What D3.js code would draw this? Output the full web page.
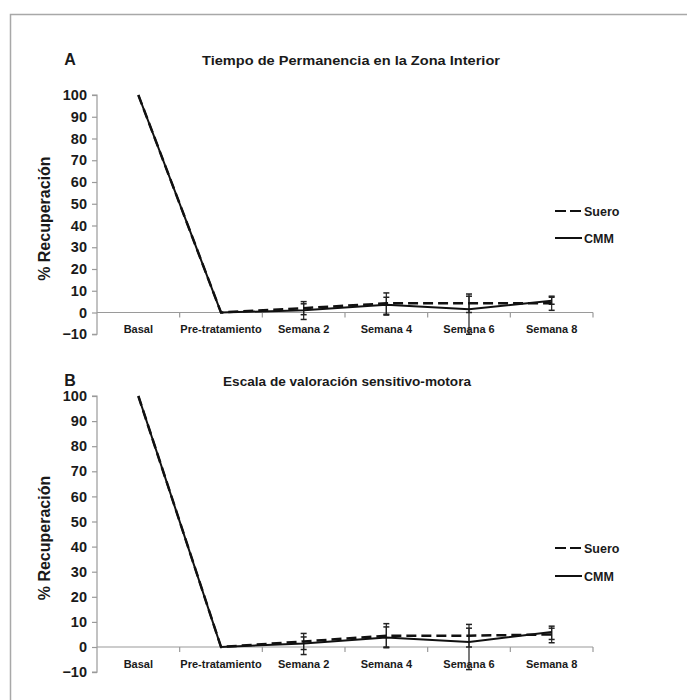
<!DOCTYPE html>
<html><head><meta charset="utf-8">
<script src="https://cdn.jsdelivr.net/npm/d3@7"></script>
<style>
html,body{margin:0;padding:0;background:#fff;}
svg{display:block;}
text{font-family:"Liberation Sans",Arial,sans-serif;fill:#1a1a1a;}
</style></head>
<body>
<svg id="chart" width="687" height="700"></svg>
<script>
const categories = ["Basal","Pre-tratamiento","Semana 2","Semana 4","Semana 6","Semana 8"];
const yTickValues = [-10,0,10,20,30,40,50,60,70,80,90,100];
const seriesNames = ["Suero","CMM"];

// Panel A: Tiempo de Permanencia en la Zona Interior
const sueroA   = [100, 0, 2.0, 4.2, 4.2, 4.2];
const sueroAHi = [null, null, 5.0, 9.0, 8.5, 7.5];
const sueroALo = [null, null, -1.0, -0.8, 0.0, 1.0];
const cmmA     = [100, 0, 1.0, 3.6, 1.5, 5.4];
const cmmAHi   = [null, null, 4.0, 7.0, 7.5, 7.0];
const cmmALo   = [null, null, -3.2, -1.2, -10.0, 3.8];

// Panel B: Escala de valoración sensitivo-motora
const sueroB   = [100, 0, 2.2, 4.5, 4.5, 5.0];
const sueroBHi = [null, null, 5.4, 9.3, 9.0, 8.3];
const sueroBLo = [null, null, -1.0, -0.3, 0.0, 1.7];
const cmmB     = [100, 0, 1.4, 3.8, 2.0, 6.0];
const cmmBHi   = [null, null, 4.0, 8.0, 7.5, 7.5];
const cmmBLo   = [null, null, -3.0, 0.0, -9.0, 3.0];

const panels = [
  {letter:"A", title:"Tiempo de Permanencia en la Zona Interior", titleLen:298, titleX:351,
   top:95, zero:312.5, titleY:65, legendY:[211,238],
   suero:sueroA, sueroHi:sueroAHi, sueroLo:sueroALo, cmm:cmmA, cmmHi:cmmAHi, cmmLo:cmmALo},
  {letter:"B", title:"Escala de valoración sensitivo-motora", titleLen:248, titleX:347,
   top:396, zero:647, titleY:386, legendY:[548,576],
   suero:sueroB, sueroHi:sueroBHi, sueroLo:sueroBLo, cmm:cmmB, cmmHi:cmmBHi, cmmLo:cmmBLo}
];

const svg = d3.select("#chart");
// outer frame
svg.append("rect").attr("x",10.5).attr("y",14.5).attr("width",720).attr("height",720)
  .attr("fill","none").attr("stroke","#a8a8a8").attr("stroke-width",1.5);

const axisColor = "#9a9a9a";

panels.forEach(p => {
  const g = svg.append("g");
  const x = d3.scaleBand().domain(categories).range([97, 593]).padding(0);
  const y = d3.scaleLinear().domain([0,100]).range([p.zero, p.top]);

  // y axis
  const yAxis = g.append("g").attr("transform","translate(97,0)")
    .call(d3.axisLeft(y).tickValues(yTickValues).tickSize(5).tickPadding(5).tickFormat(d3.format("d")));
  yAxis.select(".domain").attr("stroke",axisColor).attr("stroke-width",1.2)
    .attr("d", `M-5,${y(100)}H0V${y(-10)}H-5`);
  yAxis.selectAll(".tick line").attr("stroke",axisColor).attr("stroke-width",1.2);
  yAxis.selectAll(".tick text").attr("font-size",14.5).attr("font-weight","bold").attr("fill","#1a1a1a");

  // x axis at y = 0
  const xAxis = g.append("g").attr("transform",`translate(0,${y(0)})`)
    .call(d3.axisBottom(x).tickSize(0).tickPadding(13));
  xAxis.select(".domain").attr("stroke",axisColor).attr("stroke-width",1.2)
    .attr("d", `M97,0H593`);
  xAxis.selectAll(".tick text").attr("font-size",11).attr("font-weight","bold").attr("fill","#1a1a1a");
  // ticks between categories
  g.append("g").selectAll("line").data(categories)
    .join("line")
    .attr("x1",d=>x(d) + x.bandwidth())
    .attr("x2",d=>x(d) + x.bandwidth())
    .attr("y1",y(0)).attr("y2",y(0)+5)
    .attr("stroke",axisColor).attr("stroke-width",1.2);

  // axis title
  g.append("text").attr("transform",`translate(50,${(y(100)+y(-10))/2+4}) rotate(-90)`)
    .attr("text-anchor","middle").attr("font-size",16).attr("font-weight","bold")
    .attr("fill","#222").text("% Recuperación");

  // panel letter and title
  g.append("text").attr("x",70).attr("y",p.titleY).attr("text-anchor","middle")
    .attr("font-size",16).attr("font-weight","bold").text(p.letter);
  g.append("text").attr("x",p.titleX).attr("y",p.titleY).attr("text-anchor","middle")
    .attr("font-size",12.5).attr("font-weight","bold")
    .attr("textLength",p.titleLen).attr("lengthAdjust","spacingAndGlyphs").text(p.title);

  const cx = c => x(c) + x.bandwidth()/2;

  // error bars
  const drawErr = (hi, lo) => {
    categories.forEach((c,i) => {
      if (hi[i] == null) return;
      const xx = cx(c);
      g.append("line").attr("x1",xx).attr("x2",xx).attr("y1",y(hi[i])).attr("y2",y(lo[i]))
        .attr("stroke","#222").attr("stroke-width",1.2);
      [hi[i], lo[i]].forEach(v => {
        g.append("line").attr("x1",xx-3).attr("x2",xx+3).attr("y1",y(v)).attr("y2",y(v))
          .attr("stroke","#222").attr("stroke-width",1.5);
      });
    });
  };
  drawErr(p.sueroHi, p.sueroLo);
  drawErr(p.cmmHi, p.cmmLo);

  const line = d3.line().x((d,i)=>cx(categories[i])).y(d=>y(d));
  g.append("path").datum(p.cmm).attr("d", line)
    .attr("fill","none").attr("stroke","#111").attr("stroke-width",2);
  g.append("path").datum(p.suero).attr("d", line)
    .attr("fill","none").attr("stroke","#111").attr("stroke-width",2.5)
    .attr("stroke-dasharray","10,5");

  // legend
  const legend = g.append("g");
  seriesNames.forEach((name,i) => {
    const ly = p.legendY[i];
    legend.append("line").attr("x1",555).attr("x2",582).attr("y1",ly).attr("y2",ly)
      .attr("stroke","#111").attr("stroke-width",2)
      .attr("stroke-dasharray", i===0 ? "11,4" : null);
    legend.append("text").attr("x",584).attr("y",ly+4.5).attr("font-size",12.5)
      .attr("font-weight","bold").text(name);
  });
});
</script>
</body></html>
